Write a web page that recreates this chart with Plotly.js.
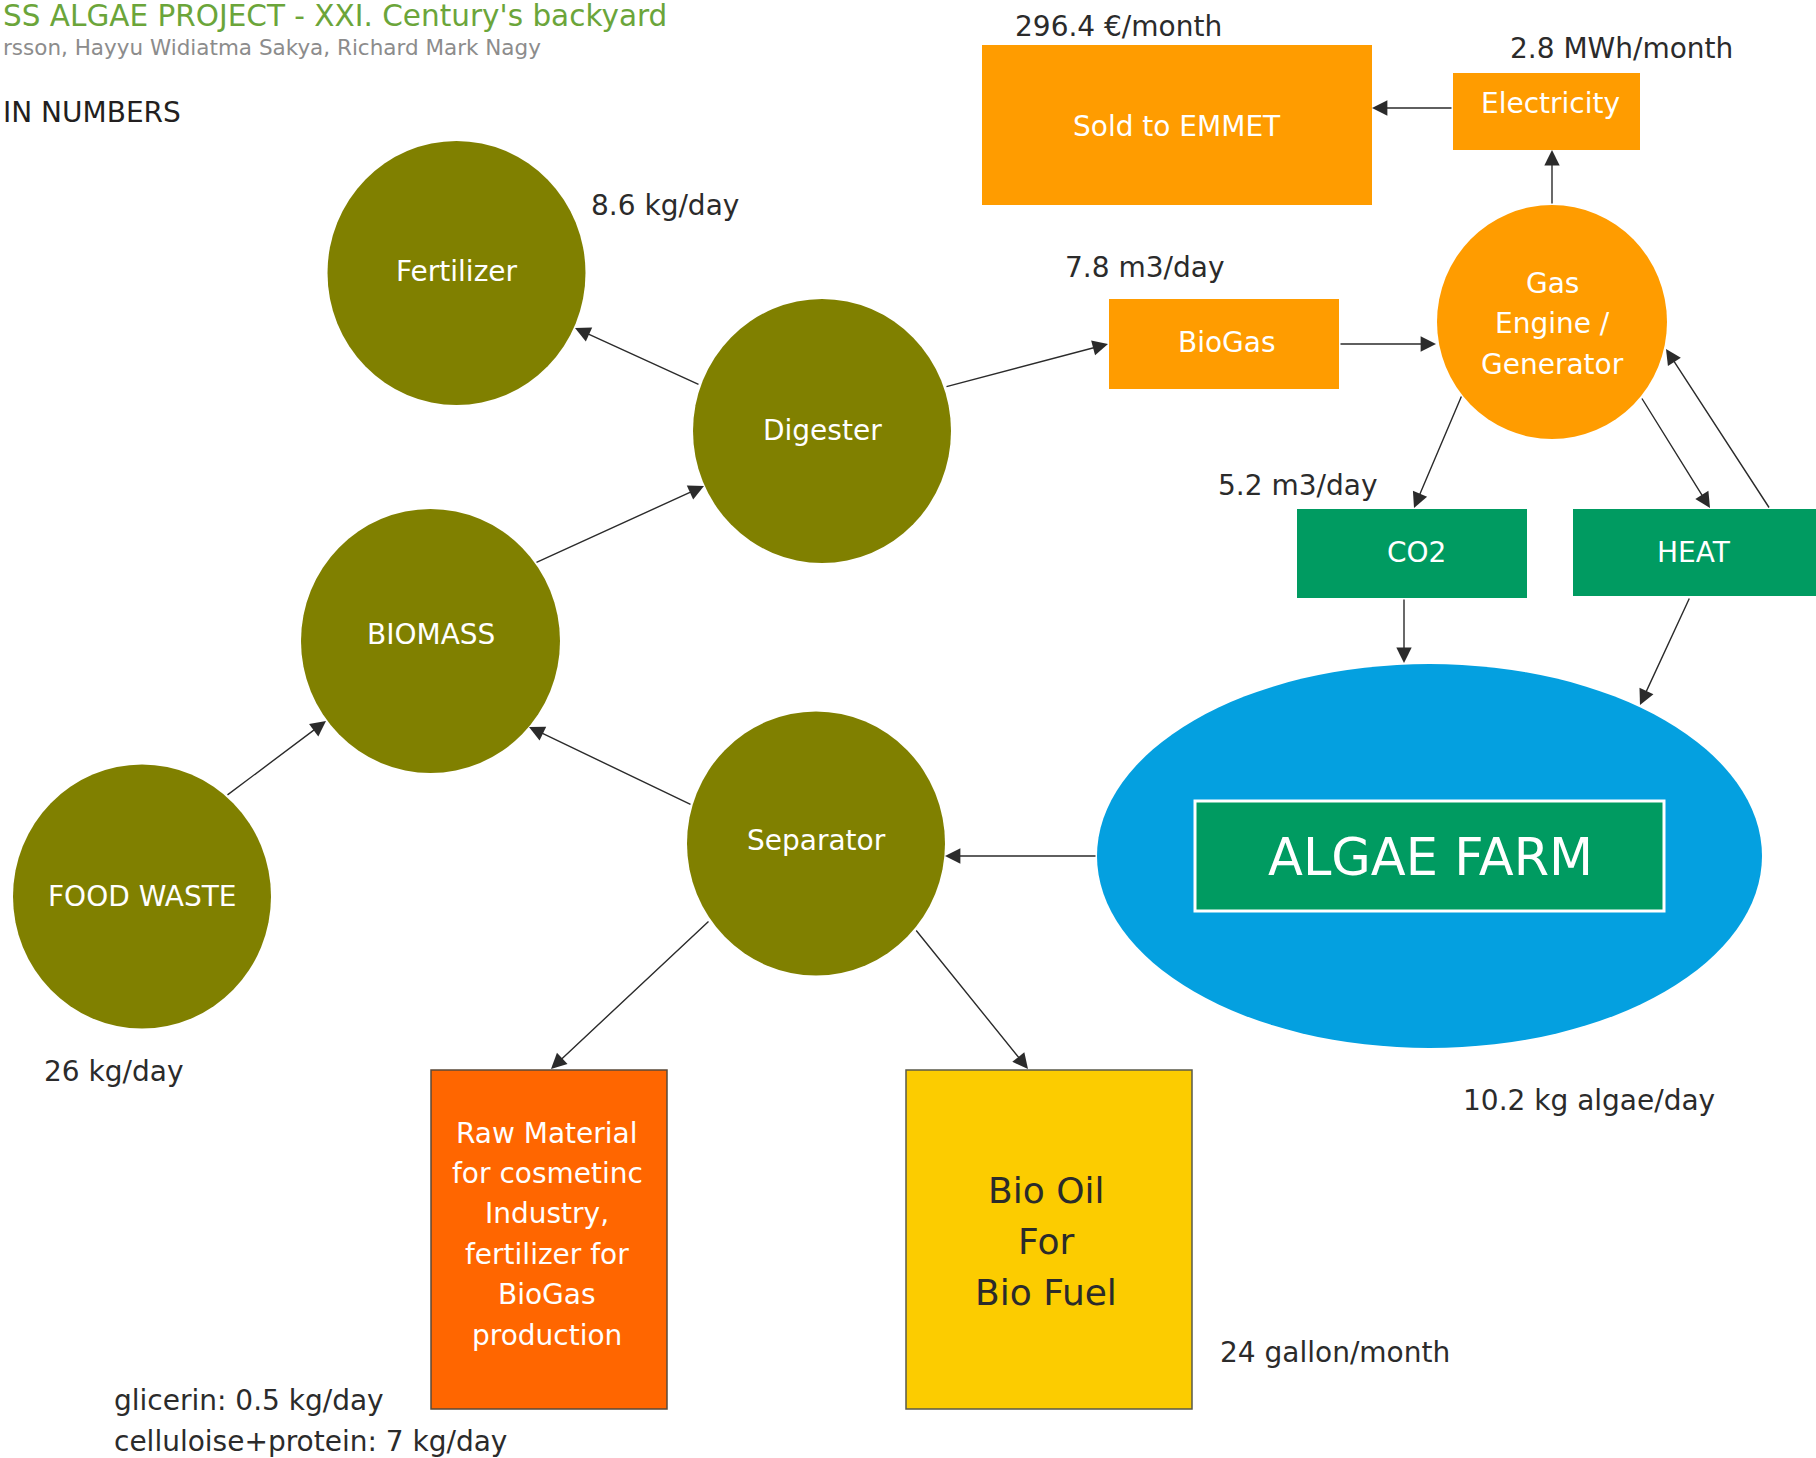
<!DOCTYPE html>
<html>
<head>
<meta charset="utf-8">
<script src="https://cdn.plot.ly/plotly-3.0.1.min.js"></script>
<style>html,body{margin:0;padding:0;background:#fff;}#chart{width:1816px;height:1458px;}</style>
</head>
<body>
<div id="chart"></div>
<script>
// ---------- DATA (texts and values) ----------
const headerTexts = ["SS ALGAE PROJECT - XXI. Century's backyard", "rsson, Hayyu Widiatma Sakya, Richard Mark Nagy", "IN NUMBERS"];
const circleNodes = ["Fertilizer", "Digester", "BIOMASS", "FOOD WASTE", "Separator", "Gas<br>Engine /<br>Generator"];
const boxNodes = ["Sold to EMMET", "Electricity", "BioGas", "CO2", "HEAT"];
const farmLabel = ["ALGAE FARM"];
const flowValues = ["296.4 €/month", "2.8 MWh/month", "8.6 kg/day", "7.8 m3/day", "5.2 m3/day", "26 kg/day", "10.2 kg algae/day", "24 gallon/month"];
const rawMaterialLines = ["Raw Material", "for cosmetinc", "Industry,", "fertilizer for", "BioGas", "production"];
const bioOilLines = ["Bio Oil", "For", "Bio Fuel"];
const byproductNotes = ["glicerin: 0.5 kg/day", "celluloise+protein: 7 kg/day"];
// flows: [from, to]
const flows = [
  ["Digester", "Fertilizer"], ["BIOMASS", "Digester"], ["Digester", "BioGas"], ["BioGas", "Gas"],
  ["Gas", "Electricity"], ["Electricity", "Sold to EMMET"], ["Gas", "CO2"], ["Gas", "HEAT"],
  ["HEAT", "Gas"], ["CO2", "ALGAE FARM"], ["HEAT", "ALGAE FARM"], ["ALGAE FARM", "Separator"],
  ["Separator", "BIOMASS"], ["FOOD WASTE", "BIOMASS"], ["Separator", "Raw"], ["Separator", "BioOil"]
];

// ---------- GEOMETRY & STYLE (layout only) ----------
const FONT = "'DejaVu Sans', Roboto, sans-serif";
const OLIVE = "#808000", ORANGE = "#FF9C00", GREEN = "#009B61", BLUE = "#04A0E0", DARK = "#2b2b2b";
const LABEL = 28;
const circleGeom = [ // cx, cy, rx, ry, fill, label y (first line), line step
  [456.5, 273, 129, 132, OLIVE, 271, 0],
  [822, 431, 129, 132, OLIVE, 430, 0],
  [430.5, 641, 129.5, 132, OLIVE, 634, 0],
  [142, 896.5, 129, 132, OLIVE, 896, 0],
  [816, 843.5, 129, 132, OLIVE, 840, 0],
  [1552, 322, 115, 117, ORANGE, 283, 40.5]
];
const boxGeom = [ // x0, x1, y0, y1, fill, label x, label y
  [982, 1372, 45, 205, ORANGE, 1177, 126],
  [1453, 1640, 73, 150, ORANGE, 1550, 103],
  [1109, 1339, 299, 389, ORANGE, 1227, 342],
  [1297, 1527, 509, 598, GREEN, 1416, 552],
  [1573, 1830, 509, 596, GREEN, 1694, 552]
];
const flowGeom = [ // tailX, tailY, tipX, tipY
  [700, 385, 575, 328], [535, 563, 704, 486], [945, 387, 1108, 344], [1339, 344, 1436, 344],
  [1552, 205, 1552, 150], [1453, 108, 1372, 108], [1462, 395, 1414, 508], [1641, 397, 1710, 508],
  [1770, 509, 1666, 349], [1404, 598, 1404, 663], [1690, 597, 1640, 705], [1097, 856, 945, 856],
  [692, 805, 529, 727], [226, 796, 326, 721], [710, 920, 551, 1069], [915, 929, 1028, 1069]
];
const flowValueGeom = [ // x, y, anchor
  [1118, 26, "center"], [1621, 48, "center"], [665, 205, "center"], [1144, 267, "center"],
  [1297, 485, "center"], [113, 1071, "center"], [1589, 1100, "center"], [1335, 1352, "center"]
];

const shapes = [];
const annotations = [];

// header
const headerGeom = [[1, 16, 29.5, "#6BA53A"], [1, 47, 21.5, "#8C8C8C"], [1, 112, 28, "#231F20"]];
headerTexts.forEach((t, i) => {
  const g = headerGeom[i];
  annotations.push({x: g[0], y: g[1], xref: "x", yref: "y", text: t, showarrow: false, xanchor: "left", yanchor: "middle",
    font: {family: FONT, size: g[2], color: g[3]}});
});

// algae farm ellipse
shapes.push({type: "circle", xref: "x", yref: "y", x0: 1097, x1: 1762, y0: 664, y1: 1048, fillcolor: BLUE, line: {width: 0}});
shapes.push({type: "rect", xref: "x", yref: "y", x0: 1195, x1: 1664, y0: 801, y1: 911, fillcolor: GREEN, line: {color: "#ffffff", width: 3}});
annotations.push({x: 1430, y: 857, xref: "x", yref: "y", text: farmLabel[0], showarrow: false, xanchor: "center", yanchor: "middle",
  font: {family: FONT, size: 51, color: "#ffffff"}});

// circles
circleNodes.forEach((t, i) => {
  const g = circleGeom[i];
  shapes.push({type: "circle", xref: "x", yref: "y", x0: g[0] - g[2], x1: g[0] + g[2], y0: g[1] - g[3], y1: g[1] + g[3], fillcolor: g[4], line: {width: 0}});
  t.split("<br>").forEach((line, j) => {
    annotations.push({x: g[0], y: g[5] + j * g[6], xref: "x", yref: "y", text: line, showarrow: false, xanchor: "center", yanchor: "middle",
      font: {family: FONT, size: LABEL, color: "#ffffff"}});
  });
});

// boxes
boxNodes.forEach((t, i) => {
  const g = boxGeom[i];
  shapes.push({type: "rect", xref: "x", yref: "y", x0: g[0], x1: g[1], y0: g[2], y1: g[3], fillcolor: g[4], line: {width: 0}});
  annotations.push({x: g[5], y: g[6], xref: "x", yref: "y", text: t, showarrow: false, xanchor: "center", yanchor: "middle",
    font: {family: FONT, size: LABEL, color: "#ffffff"}});
});

// product boxes
shapes.push({type: "rect", xref: "x", yref: "y", x0: 431, x1: 667, y0: 1070, y1: 1409, fillcolor: "#FF6600", line: {color: "#5a4a3a", width: 1.5}});
shapes.push({type: "rect", xref: "x", yref: "y", x0: 906, x1: 1192, y0: 1070, y1: 1409, fillcolor: "#FCCC00", line: {color: "#5a5a4a", width: 1.5}});
rawMaterialLines.forEach((t, i) => {
  annotations.push({x: 547, y: 1133 + i * 40.4, xref: "x", yref: "y", text: t, showarrow: false, xanchor: "center", yanchor: "middle",
    font: {family: FONT, size: LABEL, color: "#ffffff"}});
});
bioOilLines.forEach((t, i) => {
  annotations.push({x: 1046, y: 1190 + i * 51, xref: "x", yref: "y", text: t, showarrow: false, xanchor: "center", yanchor: "middle",
    font: {family: FONT, size: 36, color: DARK}});
});

// flow values
flowValues.forEach((t, i) => {
  const g = flowValueGeom[i];
  annotations.push({x: g[0], y: g[1], xref: "x", yref: "y", text: t, showarrow: false, xanchor: g[2], yanchor: "middle",
    font: {family: FONT, size: LABEL, color: DARK}});
});
byproductNotes.forEach((t, i) => {
  annotations.push({x: 112, y: 1400 + i * 41, xref: "x", yref: "y", text: t, showarrow: false, xanchor: "left", yanchor: "middle",
    font: {family: FONT, size: LABEL, color: DARK}});
});

// arrows
flows.forEach((f, i) => {
  const g = flowGeom[i];
  annotations.push({x: g[2], y: g[3], ax: g[0], ay: g[1], xref: "x", yref: "y", axref: "x", ayref: "y", text: "",
    showarrow: true, arrowhead: 2, arrowsize: 2.2, arrowwidth: 1.4, arrowcolor: DARK, standoff: 0, startstandoff: 0});
});

const layout = {
  width: 1816, height: 1458,
  margin: {l: 0, r: 0, t: 0, b: 0},
  paper_bgcolor: "#ffffff", plot_bgcolor: "#ffffff",
  xaxis: {range: [0, 1816], visible: false, fixedrange: true},
  yaxis: {range: [1458, 0], visible: false, fixedrange: true},
  showlegend: false,
  shapes: shapes,
  annotations: annotations
};
Plotly.newPlot("chart", [{x: [0, 1816], y: [0, 1458], mode: "markers", marker: {opacity: 0}, hoverinfo: "skip", type: "scatter"}], layout, {staticPlot: true});
</script>
</body>
</html>
